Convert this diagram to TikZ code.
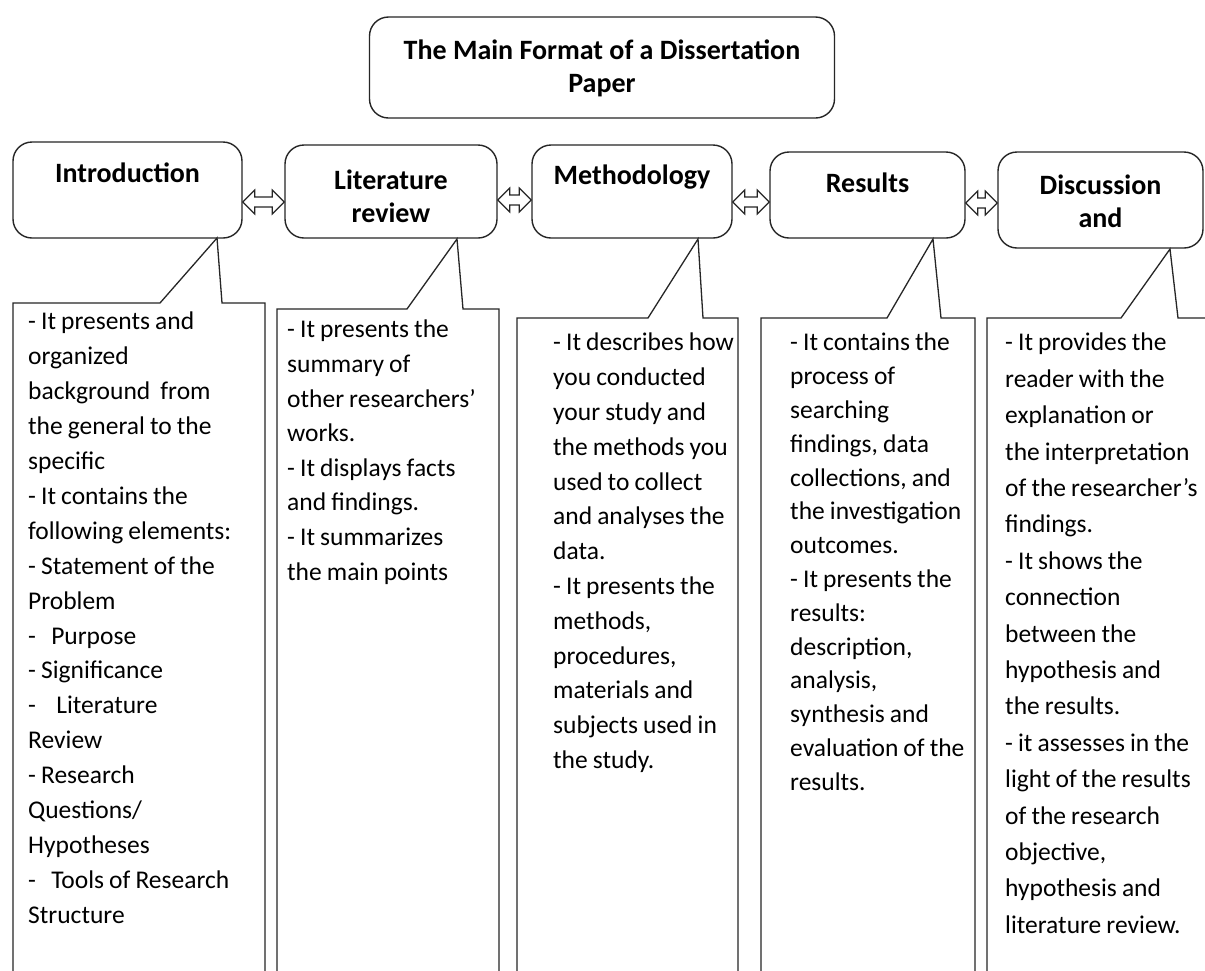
\documentclass[tikz,border=0pt]{standalone}
\usepackage{fontspec}
\setmainfont{Carlito}
\usetikzlibrary{calc}
\tikzset{
  box/.style={draw=black!85, line width=1.4pt, rounded corners=19pt, inner sep=0pt, fill=white},
  head/.style={font=\fontsize{28}{33}\selectfont\bfseries, align=center, inner sep=0pt},
  body/.style={align=left, anchor=north west, inner sep=0pt},
  callout/.style={draw=black!85, line width=1.3pt, line join=miter},
  dbl/.style={draw=black!85, fill=white, line width=1.2pt, line join=miter,
    to path={let \p1=(\tikztostart), \p2=(\tikztotarget) in
      (\p1) -- ++(12pt,12pt) -- ++(0pt,-7pt) -- ++({\x2-\x1-24pt},0pt) -- ++(0pt,7pt) -- (\p2)
      -- ++(-12pt,-12pt) -- ++(0pt,7pt) -- ++({\x1-\x2+24pt},0pt) -- ++(0pt,-7pt) -- cycle}}
}
\newcommand{\bodyfont}[1]{\fontsize{25.5}{#1}\selectfont\spaceskip=0.2em plus 0.1em}
\begin{document}
\begin{tikzpicture}[x=1pt,y=-1pt]
\clip (0,0) rectangle (1205,970);
\fill[white] (0,0) rectangle (1205,970);

% title
\node[box, minimum width=465pt, minimum height=101pt] (title) at (602,67.5) {};
\node[head] (titleT) at (602,68) {The Main Format of a Dissertation\\Paper};

% heading boxes
\node[box, minimum width=229pt, minimum height=96pt] (intro) at (127.5,190) {};
\node[box, minimum width=212pt, minimum height=93pt] (lit) at (391,191.5) {};
\node[box, minimum width=200pt, minimum height=93pt] (meth) at (632,191.5) {};
\node[box, minimum width=195pt, minimum height=86pt] (res) at (867.5,195) {};
\node[box, minimum width=205pt, minimum height=96pt] (disc) at (1100.5,200) {};

\node[head] (introT) at (127.5,173) {Introduction};
\node[head] (litT) at (391,196) {Literature\\review};
\node[head] (methT) at (632,177) {Methodology};
\node[head] (resT) at (867.5,183) {Results};
\node[head] (discT) at (1100.5,201) {Discussion\\and};

% double arrows
\draw[dbl] (intro.east |- 0,202) to (lit.west |- 0,202);
\draw[dbl] (lit.east |- 0,200) to (meth.west |- 0,200);
\draw[dbl] (meth.east |- 0,202) to (res.west |- 0,202);
\draw[dbl] (res.east |- 0,203) to (disc.west |- 0,203);

% callouts
\draw[callout] (13,980) -- (13,303) -- (160,303) -- (217,238) -- (222,303) -- (265,303) -- (265,980);
\draw[callout] (277,980) -- (277,309) -- (407,309) -- (457,239) -- (463,309) -- (499,309) -- (499,980);
\draw[callout] (517,980) -- (517,318) -- (648,318) -- (698,239) -- (703,318) -- (738,318) -- (738,980);
\draw[callout] (761,980) -- (761,318) -- (887,318) -- (933,239) -- (941,318) -- (975,318) -- (975,980);
\draw[callout] (987,980) -- (987,318) -- (1121,318) -- (1170,249) -- (1178,318) -- (1215,318);

% body texts
\node[body, font=\bodyfont{34.9}] (introB) at (28,312) {- It presents and\\organized\\background\ \ from\\the general to the\\specific\\- It contains the\\following elements:\\- Statement of the\\Problem\\-\ \ \ Purpose\\- Significance\\-\ \ \ \ Literature\\Review\\- Research\\Questions/\\Hypotheses\\-\ \ \ Tools of Research\\Structure};
\node[body, font=\bodyfont{34.6}] (litB) at (287,320) {- It presents the\\summary of\\other researchers'\\works.\\- It displays facts\\and findings.\\- It summarizes\\the main points};
\node[body, font=\bodyfont{34.8}] (methB) at (553,333) {- It describes how\\you conducted\\your study and\\the methods you\\used to collect\\and analyses the\\data.\\- It presents the\\methods,\\procedures,\\materials and\\subjects used in\\the study.};
\node[body, font=\bodyfont{33.8}] (resB) at (790,333) {- It contains the\\process of\\searching\\findings, data\\collections, and\\the investigation\\outcomes.\\- It presents the\\results:\\description,\\analysis,\\synthesis and\\evaluation of the\\results.};
\node[body, font=\bodyfont{36.4}] (discB) at (1005,333) {- It provides the\\reader with the\\explanation or\\the interpretation\\of the researcher’s\\findings.\\- It shows the\\connection\\between the\\hypothesis and\\the results.\\- it assesses in the\\light of the results\\of the research\\objective,\\hypothesis and\\literature review.};
\end{tikzpicture}
\end{document}
